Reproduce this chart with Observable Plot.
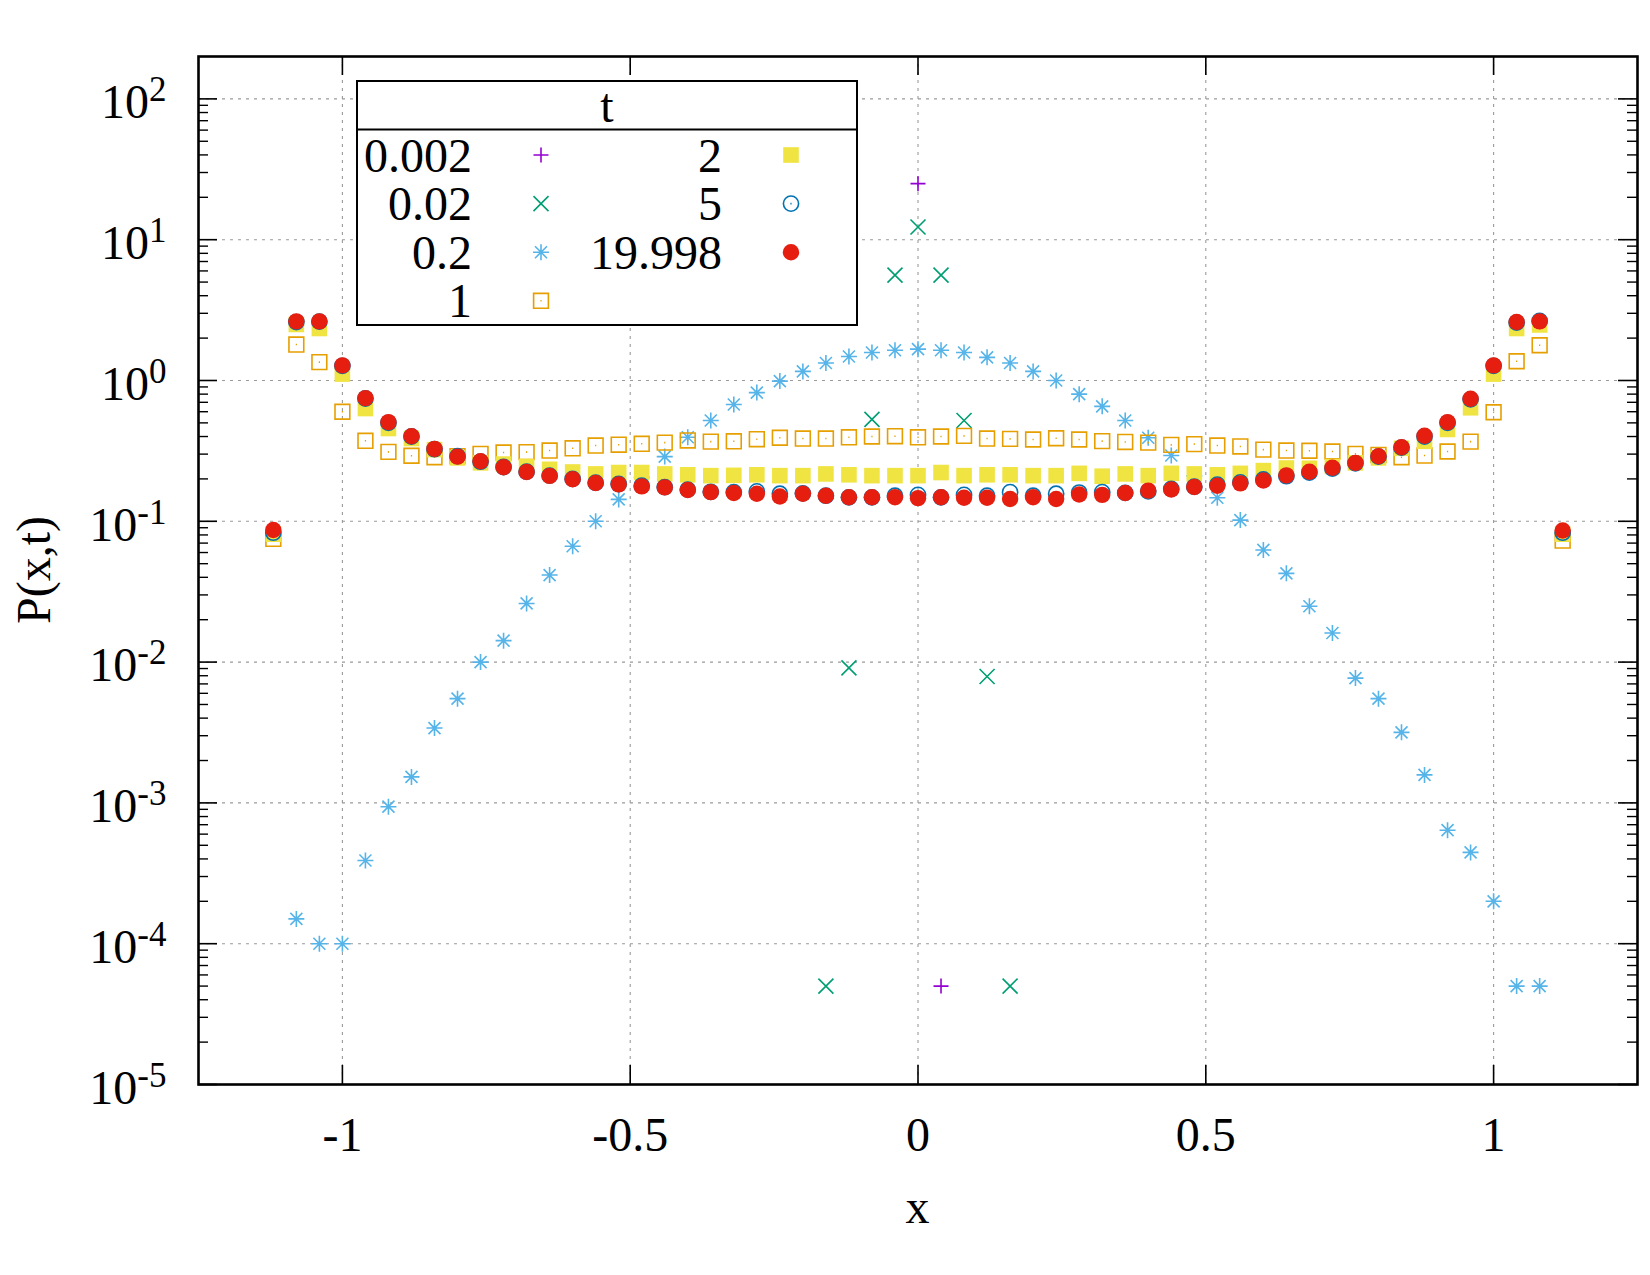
<!DOCTYPE html>
<html>
<head>
<meta charset="utf-8">
<script src="https://cdn.jsdelivr.net/npm/d3@7"></script>
<script src="https://cdn.jsdelivr.net/npm/@observablehq/plot@0.6"></script>
<style>
  html, body { margin: 0; padding: 0; background: #ffffff; }
  #chart { width: 1650px; height: 1275px; }
</style>
</head>
<body>
<div id="chart"></div>
<script>
// ---------------- data ----------------
const xGrid = [
  -1.12, -1.08, -1.04, -1.00, -0.96, -0.92, -0.88, -0.84, -0.80, -0.76,
  -0.72, -0.68, -0.64, -0.60, -0.56, -0.52, -0.48, -0.44, -0.40, -0.36,
  -0.32, -0.28, -0.24, -0.20, -0.16, -0.12, -0.08, -0.04, 0.00, 0.04,
  0.08, 0.12, 0.16, 0.20, 0.24, 0.28, 0.32, 0.36, 0.40, 0.44,
  0.48, 0.52, 0.56, 0.60, 0.64, 0.68, 0.72, 0.76, 0.80, 0.84,
  0.88, 0.92, 0.96, 1.00, 1.04, 1.08, 1.12
];

// t = 0.002 (sparse)
const x_t0002 = [0.00, 0.04];
const p_t0002 = [25, 5e-5];

// t = 0.02 (sparse)
const x_t002 = [-0.16, -0.12, -0.08, -0.04, 0.00, 0.04, 0.08, 0.12, 0.16];
const p_t002 = [5e-5, 0.0091, 0.53, 5.6, 12.3, 5.6, 0.52, 0.0079, 5e-5];

// t = 0.2 (on xGrid)
const p_t02 = [
  null, 1.5e-4, 1e-4, 1e-4, 3.9e-4, 9.4e-4, 1.53e-3, 3.4e-3, 5.5e-3, 0.0100,
  0.0142, 0.0261, 0.0415, 0.0665, 0.100, 0.143, 0.205, 0.288, 0.395, 0.52,
  0.675, 0.82, 0.99, 1.16, 1.33, 1.48, 1.58, 1.64, 1.67, 1.64,
  1.58, 1.46, 1.33, 1.16, 1.00, 0.80, 0.655, 0.52, 0.392, 0.293,
  0.21, 0.147, 0.102, 0.0626, 0.0427, 0.0249, 0.0161, 0.0077, 0.0055, 0.00317,
  0.00158, 6.4e-4, 4.45e-4, 2.0e-4, 5e-5, 5e-5, null
];

// t = 1
const p_t1 = [
  0.075, 1.80, 1.35, 0.60, 0.373, 0.311, 0.292, 0.285, 0.290, 0.301,
  0.308, 0.310, 0.318, 0.330, 0.345, 0.350, 0.355, 0.362, 0.375, 0.368,
  0.370, 0.383, 0.392, 0.387, 0.387, 0.395, 0.400, 0.402, 0.395, 0.400,
  0.404, 0.387, 0.385, 0.381, 0.389, 0.381, 0.371, 0.366, 0.362, 0.349,
  0.353, 0.345, 0.340, 0.323, 0.318, 0.317, 0.313, 0.301, 0.296, 0.285,
  0.293, 0.313, 0.368, 0.595, 1.37, 1.78, 0.073
];

// t = 2
const p_t2 = [
  0.081, 2.50, 2.34, 1.11, 0.632, 0.456, 0.387, 0.323, 0.282, 0.260,
  0.255, 0.245, 0.234, 0.224, 0.217, 0.222, 0.222, 0.217, 0.214, 0.211,
  0.212, 0.214, 0.211, 0.211, 0.217, 0.214, 0.211, 0.211, 0.211, 0.222,
  0.211, 0.214, 0.214, 0.211, 0.211, 0.219, 0.209, 0.217, 0.211, 0.219,
  0.217, 0.214, 0.219, 0.229, 0.239, 0.238, 0.245, 0.260, 0.282, 0.330,
  0.370, 0.449, 0.640, 1.11, 2.34, 2.48, 0.081
];

// t = 5
const p_t5 = [
  0.083, 2.60, 2.62, 1.27, 0.745, 0.500, 0.400, 0.325, 0.290, 0.265,
  0.243, 0.225, 0.211, 0.200, 0.188, 0.184, 0.179, 0.175, 0.168, 0.162,
  0.161, 0.163, 0.157, 0.158, 0.152, 0.148, 0.148, 0.152, 0.154, 0.148,
  0.154, 0.152, 0.161, 0.152, 0.157, 0.160, 0.161, 0.159, 0.163, 0.170,
  0.176, 0.182, 0.189, 0.198, 0.209, 0.222, 0.237, 0.258, 0.288, 0.334,
  0.400, 0.500, 0.735, 1.27, 2.58, 2.65, 0.083
];

// t = 19.998
const p_t19998 = [
  0.0868, 2.63, 2.63, 1.28, 0.749, 0.506, 0.402, 0.327, 0.288, 0.267,
  0.242, 0.224, 0.210, 0.199, 0.187, 0.183, 0.177, 0.174, 0.167, 0.161,
  0.159, 0.157, 0.150, 0.157, 0.152, 0.148, 0.148, 0.148, 0.146, 0.148,
  0.147, 0.147, 0.144, 0.148, 0.144, 0.155, 0.154, 0.159, 0.165, 0.168,
  0.175, 0.179, 0.186, 0.195, 0.212, 0.225, 0.240, 0.260, 0.290, 0.336,
  0.405, 0.506, 0.741, 1.28, 2.60, 2.63, 0.086
];

const seriesLabels = ["0.002", "0.02", "0.2", "1", "2", "5", "19.998"];
const seriesColors = ["#9400d3", "#009e73", "#56b4e9", "#e69f00", "#f0e442", "#0072b2", "#e51e10"];
const legendTitle = "t";

const xTickValues = [-1, -0.5, 0, 0.5, 1];
const yTickValues = [1e-5, 1e-4, 1e-3, 1e-2, 1e-1, 1, 10, 100];
const yTickLabels = ["10^-5", "10^-4", "10^-3", "10^-2", "10^-1", "10^0", "10^1", "10^2"];
const xLabel = "x";
const yLabel = "P(x,t)";

// ---------------- layout ----------------
const W = 1650, H = 1275;
const mL = 198, mR = 13, mT = 56, mB = 191;
const frameW = W - mL - mR, frameH = H - mT - mB;
const majorLen = 19, minorLen = 10;
const FONT = "'Liberation Serif', 'Times New Roman', Times, serif";
const FS = 48;

// gnuplot-like point symbols
const symPlus = { draw(c) { const h = 7.5; c.moveTo(-h, 0); c.lineTo(h, 0); c.moveTo(0, -h); c.lineTo(0, h); } };
const symTimes = { draw(c) { const h = 7.5; c.moveTo(-h, -h); c.lineTo(h, h); c.moveTo(-h, h); c.lineTo(h, -h); } };
const symStar = { draw(c) {
  const h = 8, d = 6;
  c.moveTo(-h, 0); c.lineTo(h, 0); c.moveTo(0, -h); c.lineTo(0, h);
  c.moveTo(-d, -d); c.lineTo(d, d); c.moveTo(-d, d); c.lineTo(d, -d);
} };
const symSquareOpen = { draw(c) {
  const s = 7.4;
  c.moveTo(-s, -s); c.lineTo(s, -s); c.lineTo(s, s); c.lineTo(-s, s); c.closePath();
  c.moveTo(-0.6, 0); c.lineTo(0.6, 0);
} };
const symSquareFill = { draw(c) {
  const s = 7.8;
  c.moveTo(-s, -s); c.lineTo(s, -s); c.lineTo(s, s); c.lineTo(-s, s); c.closePath();
} };
const symCircleOpen = { draw(c) {
  const r = 7.6;
  c.moveTo(r, 0); c.arc(0, 0, r, 0, 2 * Math.PI);
  c.moveTo(-0.6, 0); c.lineTo(0.6, 0);
} };
const symCircleFill = { draw(c) { const r = 8.2; c.moveTo(r, 0); c.arc(0, 0, r, 0, 2 * Math.PI); } };

const seriesSymbols = [symPlus, symTimes, symStar, symSquareOpen, symSquareFill, symCircleOpen, symCircleFill];
const seriesFilled = [false, false, false, false, true, false, true];

function rows(xs, ps) {
  return xs.map((x, i) => ({ x, p: ps[i] })).filter(d => d.p != null && d.p > 0);
}
const seriesData = [
  rows(x_t0002, p_t0002),
  rows(x_t002, p_t002),
  rows(xGrid, p_t02),
  rows(xGrid, p_t1),
  rows(xGrid, p_t2),
  rows(xGrid, p_t5),
  rows(xGrid, p_t19998)
];

const dotMarks = seriesData.map((data, i) => Plot.dot(data, {
  x: "x", y: "p", r: 8,
  symbol: seriesSymbols[i],
  fill: seriesFilled[i] ? seriesColors[i] : "none",
  stroke: seriesFilled[i] ? "none" : seriesColors[i],
  strokeWidth: 1.6
}));

const yMinor = d3.range(-5, 3)
  .flatMap(e => d3.range(2, 10).map(m => m * Math.pow(10, e)))
  .filter(v => v < 200);

const gridStyle = { stroke: "#9a9a9a", strokeOpacity: 1, strokeWidth: 1.1, strokeDasharray: "3,5" };

const plot = Plot.plot({
  width: W, height: H,
  marginLeft: mL, marginRight: mR, marginTop: mT, marginBottom: mB,
  x: { domain: [-1.25, 1.25] },
  y: { type: "log", domain: [1e-5, 200] },
  style: { fontFamily: FONT, fontSize: FS + "px", background: "white", color: "black", overflow: "visible" },
  marks: [
    Plot.gridX(xTickValues, gridStyle),
    Plot.gridY(yTickValues, gridStyle),
    ...dotMarks,
    // inward tick marks (left/right, bottom/top)
    Plot.ruleY(yTickValues, { insetRight: frameW - majorLen, stroke: "black", strokeWidth: 1.6 }),
    Plot.ruleY(yTickValues, { insetLeft: frameW - majorLen, stroke: "black", strokeWidth: 1.6 }),
    Plot.ruleY(yMinor, { insetRight: frameW - minorLen, stroke: "black", strokeWidth: 1.4 }),
    Plot.ruleY(yMinor, { insetLeft: frameW - minorLen, stroke: "black", strokeWidth: 1.4 }),
    Plot.ruleX(xTickValues, { insetTop: frameH - majorLen, stroke: "black", strokeWidth: 1.6 }),
    Plot.ruleX(xTickValues, { insetBottom: frameH - majorLen, stroke: "black", strokeWidth: 1.6 }),
    Plot.frame({ stroke: "black", strokeWidth: 2.6 }),
    Plot.axisX(xTickValues, { tickSize: 0, tickPadding: 32, tickFormat: d => String(d), fontSize: FS, label: null }),
    Plot.axisY(yTickValues, { tickSize: 0, tickPadding: 32, tickFormat: d => yTickLabels[yTickValues.indexOf(d)], fontSize: FS, dy: 4, label: null })
  ]
});

document.getElementById("chart").appendChild(plot);

// ---------------- post-processing ----------------
const svg = d3.select(plot);

// superscripts for log tick labels
svg.selectAll('g[aria-label="y-axis tick label"] text').each(function () {
  const s = this.textContent;
  if (!s.includes("^")) return;
  const [base, exp] = s.split("^");
  const t = d3.select(this);
  t.text(null);
  t.append("tspan").text(base);
  t.append("tspan").attr("dy", -17).attr("font-size", 35).text(exp);
});

// axis titles
svg.append("text")
  .attr("x", mL + frameW / 2).attr("y", 1223)
  .attr("text-anchor", "middle")
  .attr("font-family", FONT).attr("font-size", FS)
  .attr("fill", "black")
  .text(xLabel);
svg.append("text")
  .attr("transform", `translate(50,${mT + frameH / 2}) rotate(-90)`)
  .attr("text-anchor", "middle")
  .attr("font-family", FONT).attr("font-size", FS)
  .attr("fill", "black")
  .text(yLabel);

// key box
const bx0 = 357, bx1 = 857, by0 = 81, by1 = 325, sepY = 129.5;
const lg = svg.append("g").attr("font-family", FONT).attr("font-size", FS);
lg.append("rect")
  .attr("x", bx0).attr("y", by0).attr("width", bx1 - bx0).attr("height", by1 - by0)
  .attr("fill", "white").attr("stroke", "black").attr("stroke-width", 2);
lg.append("line")
  .attr("x1", bx0).attr("x2", bx1).attr("y1", sepY).attr("y2", sepY)
  .attr("stroke", "black").attr("stroke-width", 2);
lg.append("text")
  .attr("x", (bx0 + bx1) / 2).attr("y", 121.5)
  .attr("text-anchor", "middle").attr("fill", "black")
  .text(legendTitle);

const colTextX = [472, 722], colSymX = [541, 791];
const rowY0 = 155, rowStep = 48.6;
seriesLabels.forEach((lab, i) => {
  const col = i < 4 ? 0 : 1;
  const row = i < 4 ? i : i - 4;
  const cy = rowY0 + row * rowStep;
  lg.append("text")
    .attr("x", colTextX[col]).attr("y", cy + 16.5)
    .attr("text-anchor", "end").attr("fill", "black")
    .text(lab);
  lg.append("path")
    .attr("transform", `translate(${colSymX[col]},${cy})`)
    .attr("d", d3.symbol().type(seriesSymbols[i])())
    .attr("fill", seriesFilled[i] ? seriesColors[i] : "none")
    .attr("stroke", seriesFilled[i] ? "none" : seriesColors[i])
    .attr("stroke-width", 1.6);
});
</script>
</body>
</html>
